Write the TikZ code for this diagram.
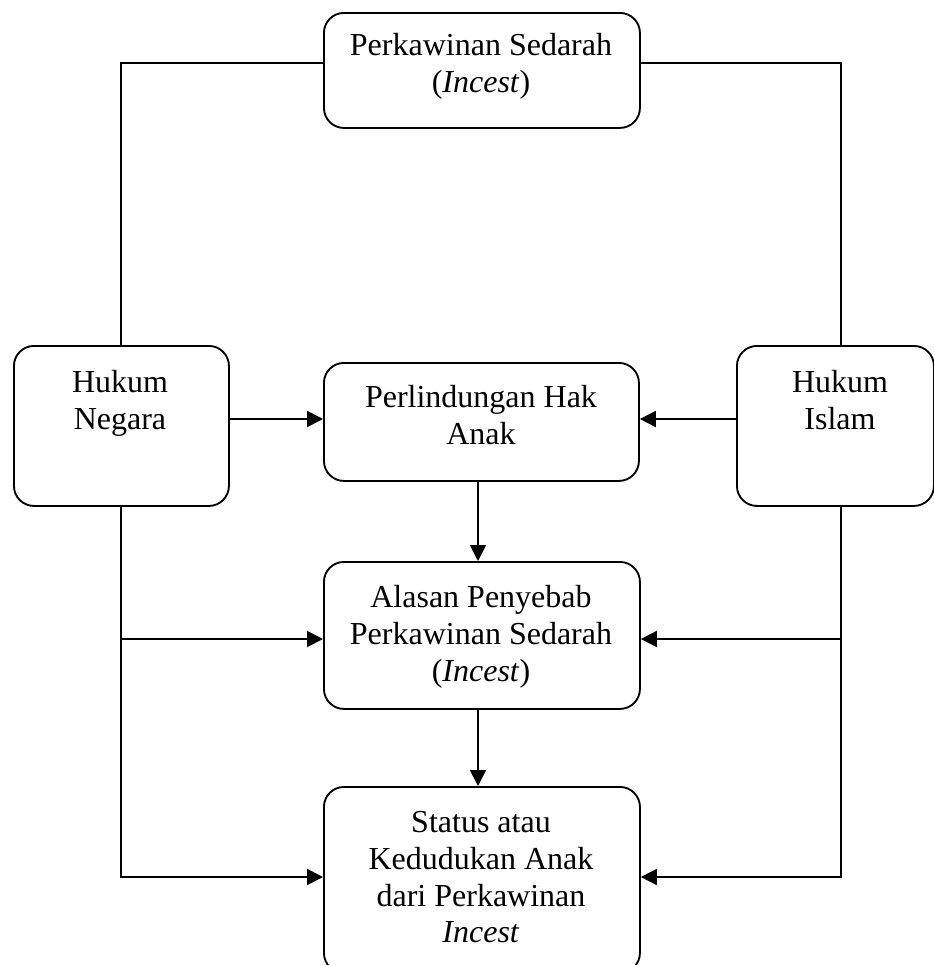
\documentclass[tikz,border=0pt]{standalone}
\usepackage{fontspec}
\setmainfont{Liberation Serif}
\usetikzlibrary{arrows.meta}
\tikzset{
  boxnode/.style={draw, line width=1.4pt, rounded corners=15pt, inner sep=0pt, anchor=north west},
  txt/.style={inner sep=0pt, align=center, anchor=north, font=\fontsize{24}{27.6}\selectfont},
  conn/.style={line width=1.4pt},
  arr/.style={conn, -{Triangle[length=12pt,width=12pt]}}
}
\begin{document}
\begin{tikzpicture}[x=0.75pt, y=-0.75pt]
\useasboundingbox (0,0) rectangle (934,965);
% boxes
\node[boxnode, minimum width=237pt, minimum height=86.25pt] (top) at (323,12) {};
\node[boxnode, minimum width=161.25pt, minimum height=120pt] (left) at (13,345) {};
\node[boxnode, minimum width=147.75pt, minimum height=120pt] (right) at (736,345) {};
\node[boxnode, minimum width=236.25pt, minimum height=88.5pt] (mid) at (323,362) {};
\node[boxnode, minimum width=237pt, minimum height=110.25pt] (alasan) at (323,561) {};
\node[boxnode, minimum width=237pt, minimum height=139.5pt] (bottom) at (323,786) {};
% texts
\node[txt] (ttop) at (481,33) {Perkawinan Sedarah\\(\textit{Incest})};
\node[txt] (tleft) at (120,370) {Hukum\\Negara};
\node[txt] (tright) at (840,370) {Hukum\\Islam};
\node[txt] (tmid) at (481,385) {Perlindungan Hak\\Anak};
\node[txt] (talasan) at (481,585) {Alasan Penyebab\\Perkawinan Sedarah\\(\textit{Incest})};
\node[txt] (tbottom) at (481,811) {Status atau\\Kedudukan Anak\\dari Perkawinan\\\textit{Incest}};
% helper coordinates
\coordinate (ty) at (0,63);
\coordinate (ay) at (0,419);
\coordinate (by1) at (0,639);
\coordinate (by2) at (0,877);
\coordinate (lx) at (121,0);
\coordinate (rx) at (841,0);
\coordinate (cx) at (478,0);
% connectors
\draw[conn] (top.west |- ty) -| (lx |- left.north);
\draw[conn] (top.east |- ty) -| (rx |- right.north);
\draw[arr] (left.east |- ay) -- (mid.west |- ay);
\draw[arr] (right.west |- ay) -- (mid.east |- ay);
\draw[arr] (cx |- mid.south) -- (cx |- alasan.north);
\draw[arr] (cx |- alasan.south) -- (cx |- bottom.north);
\draw[arr] (lx |- left.south) |- (bottom.west |- by2);
\draw[arr] (lx |- by1) -- (alasan.west |- by1);
\draw[arr] (rx |- right.south) |- (bottom.east |- by2);
\draw[arr] (rx |- by1) -- (alasan.east |- by1);
\end{tikzpicture}
\end{document}
